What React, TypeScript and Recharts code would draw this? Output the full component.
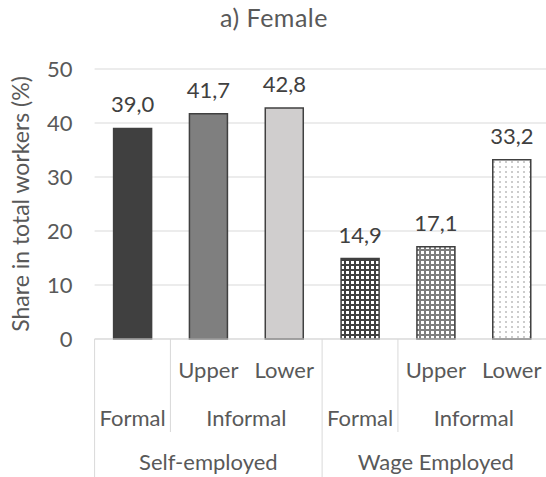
import React from 'react';
import { BarChart, Bar, XAxis, YAxis, CartesianGrid, Cell, LabelList } from 'recharts';

// categories and their grouping levels (bottom axis has three rows)
const categories = ['Formal', 'Upper', 'Lower', 'Formal', 'Upper', 'Lower'];
const subgroups = ['', 'Informal', 'Informal', '', 'Informal', 'Informal'];
const groups = ['Self-employed', 'Self-employed', 'Self-employed', 'Wage Employed', 'Wage Employed', 'Wage Employed'];
const shares = [39.0, 41.7, 42.8, 14.9, 17.1, 33.2];
const yTicks = [0, 10, 20, 30, 40, 50];

const barFills = ['#404040', '#7f7f7f', '#d0cece', 'url(#dotsDark)', 'url(#dotsMid)', 'url(#dotsLight)'];

const FONT = 'Lato, "Noto Sans", sans-serif';
const GREY = '#595959';
const LINE = '#d9d9d9';
const FS = 22;

const CHART_W = 552;
const CHART_H = 477;
const Y_W = 94.6;
const RIGHT = 2.4;
const X_H = 138;
const BAND = (CHART_W - Y_W - RIGHT) / categories.length;

const data = categories.map((c, i) => ({ key: `${groups[i]}|${subgroups[i]}|${c}`, share: shares[i] }));

const spanLen = (arr: string[], i: number) => {
  let n = 1;
  while (i + n < arr.length && arr[i + n] === arr[i]) n++;
  return n;
};

function CategoryTick(props: any) {
  const { x, y, index } = props;
  const i = index;
  const left = x - BAND / 2;
  const groupStart = i === 0 || groups[i] !== groups[i - 1];
  const subStart = subgroups[i] !== '' && (i === 0 || subgroups[i] !== subgroups[i - 1]);
  const txt = { fill: GREY, fontSize: FS, fontFamily: FONT, textAnchor: 'middle' as const };
  return (
    <g>
      {groupStart && <line x1={left} x2={left} y1={y} y2={y + X_H} stroke={LINE} />}
      {subStart && <line x1={left} x2={left} y1={y} y2={y + 93} stroke={LINE} />}
      {subgroups[i] === '' ? (
        <text x={x} y={y + 87} {...txt}>{categories[i]}</text>
      ) : (
        <text x={x} y={y + 39} {...txt}>{categories[i]}</text>
      )}
      {subStart && (
        <text x={x + ((spanLen(subgroups, i) - 1) * BAND) / 2} y={y + 87} {...txt}>{subgroups[i]}</text>
      )}
      {groupStart && (
        <text x={x + ((spanLen(groups, i) - 1) * BAND) / 2} y={y + 131} {...txt}>{groups[i]}</text>
      )}
    </g>
  );
}

const yLabel = (p: any) => {
  const vb = p.viewBox;
  const cx = vb.x + 20;
  const cy = vb.y + vb.height / 2;
  return (
    <text x={cx} y={cy} transform={`rotate(-90 ${cx} ${cy})`} textAnchor="middle" dominantBaseline="central"
      fill={GREY} fontSize={23} fontFamily={FONT}>
      Share in total workers (%)
    </text>
  );
};

export default function App() {
  return (
    <div style={{ position: 'absolute', left: 0, top: 0, width: 546, height: 477, overflow: 'hidden', background: '#fff' }}>
      <svg width={546} height={40} style={{ position: 'absolute', left: 0, top: 0 }}>
        <text x={274} y={27} textAnchor="middle" fill={GREY} fontSize={25} letterSpacing={0.5} fontFamily={FONT}>a) Female</text>
      </svg>
      <BarChart width={CHART_W} height={CHART_H} data={data} margin={{ top: 69, right: RIGHT, left: 0, bottom: 0 }}>
        <defs>
          <pattern id="dotsDark" width="5" height="5" patternUnits="userSpaceOnUse">
            <rect width="5" height="5" fill="#404040" />
            <rect x="1" y="1" width="3" height="3" fill="#ffffff" />
          </pattern>
          <pattern id="dotsMid" width="5" height="5" patternUnits="userSpaceOnUse">
            <rect width="5" height="5" fill="#7f7f7f" />
            <rect x="1" y="1" width="3" height="3" fill="#ffffff" />
          </pattern>
          <pattern id="dotsLight" width="6" height="5" patternUnits="userSpaceOnUse">
            <rect width="6" height="5" fill="#ffffff" />
            <rect x="1" y="1" width="2" height="2" fill="#cccccc" />
          </pattern>
        </defs>
        <CartesianGrid vertical={false} stroke={LINE} />
        <XAxis dataKey="key" height={X_H} tickLine={false} tickSize={0} tickMargin={0}
          axisLine={{ stroke: LINE }} tick={<CategoryTick />} interval={0} />
        <YAxis width={Y_W} domain={[0, 50]} ticks={yTicks} axisLine={false} tickLine={false} tickMargin={16}
          tick={{ fill: GREY, fontSize: FS, fontFamily: FONT }} label={{ content: yLabel }} />
        <Bar dataKey="share" barSize={38} isAnimationActive={false}>
          {data.map((d, i) => (
            <Cell key={d.key} fill={barFills[i]} stroke="#404040" strokeWidth={1.5} />
          ))}
          <LabelList dataKey="share" position="top" offset={16} fill="#404040" fontSize={FS} fontFamily={FONT}
            formatter={(v: any) => Number(v).toFixed(1).replace('.', ',')} />
        </Bar>
      </BarChart>
    </div>
  );
}
